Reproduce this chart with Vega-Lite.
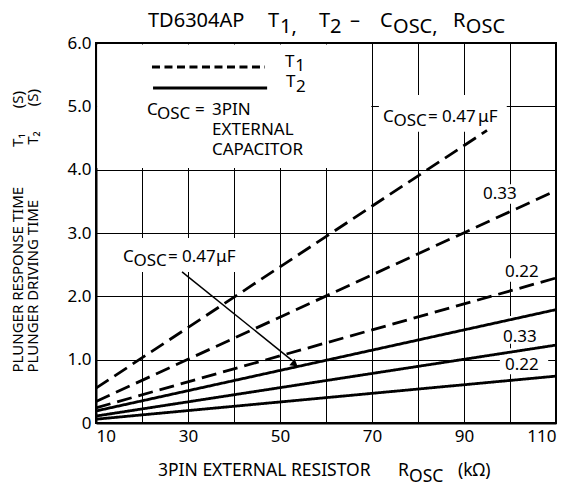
{
  "$schema": "https://vega.github.io/schema/vega-lite/v6.json",
  "width": 460,
  "height": 380,
  "autosize": {"type": "none"},
  "padding": {"left": 96, "top": 43, "right": 15, "bottom": 73},
  "background": "white",
  "config": {
    "view": {"stroke": "black", "strokeWidth": 2},
    "font": "Noto Sans"
  },
  "layer": [
    {
      "data": {"values": [
        {"x": 10.25, "x2": 69.85, "y": 4.025, "y2": 5.975},
        {"x": 71.5, "x2": 99.3, "y": 4.6, "y2": 5.18},
        {"x": 14.6, "x2": 42.0, "y": 2.385, "y2": 2.92},
        {"x": 93.0, "x2": 102.4, "y": 3.46, "y2": 3.77},
        {"x": 97.8, "x2": 106.7, "y": 2.23, "y2": 2.6},
        {"x": 97.4, "x2": 107.6, "y": 1.25, "y2": 1.69},
        {"x": 97.8, "x2": 108.3, "y": 0.77, "y2": 1.18}
      ]},
      "mark": {"type": "rect", "color": "white"},
      "encoding": {
        "x": {
          "field": "x", "type": "quantitative",
          "scale": {"domain": [10, 110], "nice": false, "zero": false},
          "axis": {
            "values": [10, 20, 30, 40, 50, 60, 70, 80, 90, 100, 110],
            "format": "d",
            "labelExpr": "(datum.value - 10) % 20 == 0 ? datum.label : ''",
            "grid": true, "gridColor": "black", "gridOpacity": 1, "gridWidth": 1,
            "ticks": false,
            "domainColor": "black", "domainWidth": 2,
            "labelColor": "black", "labelFont": "Noto Sans", "labelFontSize": 17, "labelPadding": 5,
            "labelOverlap": false,
            "title": null
          }
        },
        "x2": {"field": "x2"},
        "y": {
          "field": "y", "type": "quantitative",
          "scale": {"domain": [0, 6], "nice": false, "zero": false},
          "axis": {
            "values": [0, 0.5, 1, 1.5, 2, 2.5, 3, 3.5, 4, 4.5, 5, 5.5, 6],
            "labelExpr": "datum.value % 1 == 0 ? (datum.value == 0 ? '0' : format(datum.value, '.1f')) : ''",
            "grid": true, "gridColor": "black", "gridOpacity": 1, "gridWidth": 1,
            "ticks": false,
            "domainColor": "black", "domainWidth": 2,
            "labelColor": "black", "labelFont": "Noto Sans", "labelFontSize": 17, "labelPadding": 5,
            "labelOverlap": false,
            "title": ["PLUNGER RESPONSE TIME\u2003\u2003\u2002\u2009T\u2081\u2003\u2002\u2009(S)", "PLUNGER DRIVING TIME\u2003\u2003\u2003\u2002\u2009T\u2082\u2003\u2002\u2009(S)"],
            "titleFont": "Noto Sans", "titleFontSize": 15, "titleFontWeight": "normal", "titleColor": "black",
            "titleAngle": -90, "titleAlign": "left", "titleBaseline": "top",
            "titleX": -86, "titleY": 329, "titleLineHeight": 15.5
          }
        },
        "y2": {"field": "y2"}
      }
    },
    {
      "data": {"values": [
        {"c": "0.47", "t": "T1", "x": 10, "y": 0.55},
        {"c": "0.47", "t": "T1", "x": 95, "y": 4.62},
        {"c": "0.33", "t": "T1", "x": 10, "y": 0.34},
        {"c": "0.33", "t": "T1", "x": 110, "y": 3.67},
        {"c": "0.22", "t": "T1", "x": 10, "y": 0.24},
        {"c": "0.22", "t": "T1", "x": 110, "y": 2.29},
        {"c": "0.47", "t": "T2", "x": 10, "y": 0.19},
        {"c": "0.47", "t": "T2", "x": 110, "y": 1.79},
        {"c": "0.33", "t": "T2", "x": 10, "y": 0.11},
        {"c": "0.33", "t": "T2", "x": 110, "y": 1.23},
        {"c": "0.22", "t": "T2", "x": 10, "y": 0.06},
        {"c": "0.22", "t": "T2", "x": 110, "y": 0.74}
      ]},
      "mark": {"type": "line", "color": "black", "strokeWidth": 2.8, "strokeCap": "butt"},
      "encoding": {
        "x": {"field": "x", "type": "quantitative"},
        "y": {"field": "y", "type": "quantitative"},
        "detail": {"field": "c"},
        "strokeDash": {"field": "t", "type": "nominal", "scale": {"domain": ["T1", "T2"], "range": [[15, 7], [1, 0]]}, "legend": null}
      }
    },
    {
      "data": {"values": [{"x": 22.17, "x2": 46.74, "y": 5.621}]},
      "mark": {"type": "rule", "color": "black", "strokeWidth": 3, "strokeDash": [8, 4.5]},
      "encoding": {
        "x": {"field": "x", "type": "quantitative"},
        "x2": {"field": "x2"},
        "y": {"field": "y", "type": "quantitative"}
      }
    },
    {
      "data": {"values": [{"x": 22.4, "x2": 47.2, "y": 5.29}]},
      "mark": {"type": "rule", "color": "black", "strokeWidth": 3},
      "encoding": {
        "x": {"field": "x", "type": "quantitative"},
        "x2": {"field": "x2"},
        "y": {"field": "y", "type": "quantitative"}
      }
    },
    {
      "data": {"values": [{"x": 28.7, "y": 2.385}, {"x": 52.6, "y": 0.99}]},
      "mark": {"type": "line", "color": "black", "strokeWidth": 1.5},
      "encoding": {
        "x": {"field": "x", "type": "quantitative"},
        "y": {"field": "y", "type": "quantitative"}
      }
    },
    {
      "data": {"values": [{"x": 53.02, "y": 0.94}]},
      "mark": {"type": "point", "shape": "triangle", "filled": true, "color": "black", "opacity": 1, "size": 70, "angle": 129},
      "encoding": {
        "x": {"field": "x", "type": "quantitative"},
        "y": {"field": "y", "type": "quantitative"}
      }
    },
    {
      "data": {"values": [
        {"text": "T", "x": 51.09, "y": 5.621},
        {"text": "1", "x": 53.3, "y": 5.558},
        {"text": "T", "x": 51.3, "y": 5.305},
        {"text": "2", "x": 53.5, "y": 5.226},
        {"text": "C", "x": 21.09, "y": 4.863},
        {"text": "OSC", "x": 23.26, "y": 4.8},
        {"text": "=", "x": 31.52, "y": 4.863},
        {"text": "3PIN", "x": 35.22, "y": 4.863},
        {"text": "EXTERNAL", "x": 35.22, "y": 4.547},
        {"text": "CAPACITOR", "x": 35.22, "y": 4.232},
        {"text": "C", "x": 72.39, "y": 4.753},
        {"text": "OSC", "x": 74.67, "y": 4.689},
        {"text": "=", "x": 82.17, "y": 4.753},
        {"text": "0.47", "x": 85.22, "y": 4.753},
        {"text": "μF", "x": 93.04, "y": 4.753},
        {"text": "C", "x": 15.87, "y": 2.542},
        {"text": "OSC", "x": 18.15, "y": 2.479},
        {"text": "=", "x": 25.65, "y": 2.542},
        {"text": "0.47", "x": 28.7, "y": 2.542},
        {"text": "μF", "x": 36.09, "y": 2.542},
        {"text": "0.33", "x": 94.13, "y": 3.537},
        {"text": "0.22", "x": 98.91, "y": 2.305},
        {"text": "0.33", "x": 98.48, "y": 1.279},
        {"text": "0.22", "x": 98.91, "y": 0.837}
      ]},
      "mark": {"type": "text", "align": "left", "baseline": "alphabetic", "font": "Noto Sans", "fontSize": 17, "color": "black"},
      "encoding": {
        "x": {"field": "x", "type": "quantitative"},
        "y": {"field": "y", "type": "quantitative"},
        "text": {"field": "text"}
      }
    },
    {
      "data": {"values": [
        {"text": "TD6304AP", "x": 21.3, "y": 6.253},
        {"text": "T", "x": 47.39, "y": 6.253},
        {"text": "1,", "x": 50.0, "y": 6.158},
        {"text": "T", "x": 58.48, "y": 6.253},
        {"text": "2", "x": 60.87, "y": 6.158},
        {"text": "–", "x": 65.2, "y": 6.253},
        {"text": "C", "x": 71.74, "y": 6.253},
        {"text": "OSC,", "x": 74.57, "y": 6.158},
        {"text": "R", "x": 87.6, "y": 6.253},
        {"text": "OSC", "x": 90.4, "y": 6.158}
      ]},
      "mark": {"type": "text", "align": "left", "baseline": "alphabetic", "font": "Noto Sans", "fontSize": 20, "color": "black"},
      "encoding": {
        "x": {"field": "x", "type": "quantitative"},
        "y": {"field": "y", "type": "quantitative"},
        "text": {"field": "text"}
      }
    },
    {
      "data": {"values": [
        {"text": "3PIN EXTERNAL RESISTOR", "x": 23.48, "y": -0.837},
        {"text": "R", "x": 75.65, "y": -0.837},
        {"text": "OSC", "x": 78.04, "y": -0.932},
        {"text": "(kΩ)", "x": 88.7, "y": -0.837}
      ]},
      "mark": {"type": "text", "align": "left", "baseline": "alphabetic", "font": "Noto Sans", "fontSize": 17.5, "color": "black"},
      "encoding": {
        "x": {"field": "x", "type": "quantitative"},
        "y": {"field": "y", "type": "quantitative"},
        "text": {"field": "text"}
      }
    }
  ]
}
